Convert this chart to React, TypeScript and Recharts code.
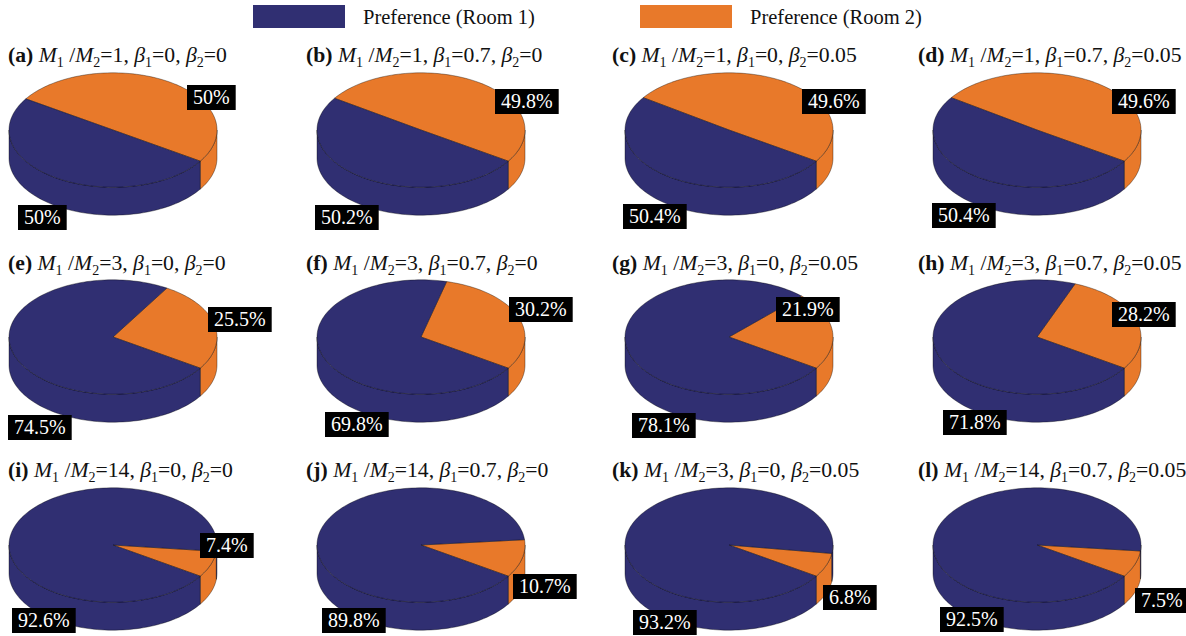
import React from 'react'
import { PieChart, Pie, Cell } from 'recharts'

// panel letters and parameters
const panelIds = ['a', 'b', 'c', 'd', 'e', 'f', 'g', 'h', 'i', 'j', 'k', 'l']
const massRatio = ['1', '1', '1', '1', '3', '3', '3', '3', '14', '14', '3', '14']
const beta1 = ['0', '0.7', '0', '0.7', '0', '0.7', '0', '0.7', '0', '0.7', '0', '0.7']
const beta2 = ['0', '0', '0.05', '0.05', '0', '0', '0.05', '0.05', '0', '0', '0.05', '0.05']

// preference shares (%)
const room1 = [50, 50.2, 50.4, 50.4, 74.5, 69.8, 78.1, 71.8, 92.6, 89.8, 93.2, 92.5]
const room2 = [50, 49.8, 49.6, 49.6, 25.5, 30.2, 21.9, 28.2, 7.4, 10.7, 6.8, 7.5]

const seriesNames = ['Preference (Room 1)', 'Preference (Room 2)']
const COLORS = ['#302f72', '#e8792a']

// label box offsets (top-left, relative to pie centre): [room2, room1]
const labelOffsets: [number, number][][] = [
  [[74, -45], [-95, 75]],
  [[74, -41], [-106, 75]],
  [[73, -41], [-106, 74]],
  [[75, -41], [-105, 73]],
  [[95, -30], [-105, 78]],
  [[88, -40], [-96, 75]],
  [[47, -40], [-97, 76]],
  [[75, -35], [-94, 73]],
  [[87, -12], [-101, 63]],
  [[92, 29], [-99, 63]],
  [[94, 40], [-96, 65]],
  [[98, 43], [-97, 62]],
]

const RAD = Math.PI / 180
const TILT = 0.55
const DEPTH = 28
const START = -33
const FONT = '"Liberation Serif", "Times New Roman", serif'

const Sector3D = (props: any) => {
  const { cx, cy, outerRadius, startAngle, endAngle, fill } = props
  const rx = outerRadius
  const ry = outerRadius * TILT
  const pt = (a: number, dy = 0) => `${cx + rx * Math.cos(a * RAD)},${cy - ry * Math.sin(a * RAD) + dy}`
  const arc = (a0: number, a1: number, dy: number) => {
    const n = Math.max(2, Math.ceil(Math.abs(a1 - a0) / 2))
    const pts: string[] = []
    for (let i = 0; i <= n; i++) pts.push(pt(a0 + ((a1 - a0) * i) / n, dy))
    return pts
  }
  const s = Math.min(startAngle, endAngle)
  const e = Math.max(startAngle, endAngle)

  const sides: string[] = []
  for (const k of [-1, 0, 1]) {
    const lo = Math.max(s, 180 + 360 * k)
    const hi = Math.min(e, 360 + 360 * k)
    if (hi > lo) {
      const pts = [...arc(lo, hi, 0), ...arc(hi, lo, DEPTH)]
      sides.push('M' + pts.join('L') + 'Z')
    }
  }
  const top = `M${cx},${cy}L` + arc(s, e, 0).join('L') + 'Z'

  return (
    <g>
      {sides.map((d, i) => (
        <path key={i} d={d} fill={fill} stroke="rgba(0,0,0,0.45)" strokeWidth={0.8} />
      ))}
      <path d={top} fill={fill} stroke="rgba(0,0,0,0.45)" strokeWidth={0.8} />
    </g>
  )
}

const boxWidth = (t: string) => {
  let w = 0
  for (const ch of t) w += ch === '%' ? 16.7 : ch === '.' ? 5 : 10
  return w + 12
}

const PiePanel = ({ idx }: { idx: number }) => {
  const data = [
    { name: seriesNames[1], value: room2[idx] },
    { name: seriesNames[0], value: room1[idx] },
  ]
  const renderLabel = (p: any) => {
    const [dx, dy] = labelOffsets[idx][p.index]
    const txt = `${data[p.index].value}%`
    const w = boxWidth(txt)
    const x = p.cx + dx
    const y = p.cy + dy
    return (
      <g>
        <rect x={x} y={y} width={w} height={25} fill="#000" />
        <text
          x={x + w / 2}
          y={y + 19}
          textAnchor="middle"
          fill="#fff"
          fontSize={20}
          fontFamily="Liberation Serif"
          style={{ fontFamily: FONT }}
        >
          {txt}
        </text>
      </g>
    )
  }
  return (
    <PieChart width={290} height={190} margin={{ top: 0, right: 0, bottom: 0, left: 0 }}>
      <Pie
        data={data}
        dataKey="value"
        cx={113}
        cy={80}
        outerRadius={104}
        startAngle={START}
        endAngle={START + 360}
        shape={(p: any) => <Sector3D {...p} />}
        label={renderLabel}
        labelLine={false}
        isAnimationActive={false}
      >
        {data.map((_, i) => (
          <Cell key={`cell-${i}`} fill={COLORS[1 - i]} />
        ))}
      </Pie>
    </PieChart>
  )
}

const subStyle = { fontSize: 14 }

const Title = ({ idx }: { idx: number }) => (
  <span>
    <b>({panelIds[idx]})</b> <i>M</i>
    <sub style={subStyle}>1</sub> /<i>M</i>
    <sub style={subStyle}>2</sub>={massRatio[idx]}, <i>β</i>
    <sub style={subStyle}>1</sub>={beta1[idx]}, <i>β</i>
    <sub style={subStyle}>2</sub>={beta2[idx]}
  </span>
)

const colCenters = [113, 421, 729, 1037]
const rowCenters = [130, 337, 545]
const titleLeft = [8, 306, 612, 918]
const titleTop = [43, 251, 458]

export default function App() {
  return (
    <div
      style={{
        position: 'absolute',
        left: 0,
        top: 0,
        width: 1186,
        height: 636,
        background: '#fff',
        overflow: 'hidden',
        fontFamily: FONT,
        color: '#111',
      }}
    >
      {/* legend */}
      {seriesNames.map((name, i) => (
        <div key={name} style={{ position: 'absolute', left: i === 0 ? 253 : 640, top: 5 }}>
          <div style={{ position: 'absolute', left: 0, top: 0, width: 92, height: 23, background: COLORS[i] }} />
          <div style={{ position: 'absolute', left: 110, top: 0, fontSize: 20.5, whiteSpace: 'nowrap', lineHeight: '24px' }}>
            {name}
          </div>
        </div>
      ))}

      {panelIds.map((_, idx) => {
        const col = idx % 4
        const row = Math.floor(idx / 4)
        return (
          <React.Fragment key={idx}>
            <div
              style={{
                position: 'absolute',
                left: titleLeft[col],
                top: titleTop[row],
                fontSize: 21.7,
                whiteSpace: 'nowrap',
                lineHeight: '24px',
              }}
            >
              <Title idx={idx} />
            </div>
            <div style={{ position: 'absolute', left: colCenters[col] - 113, top: rowCenters[row] - 80 }}>
              <PiePanel idx={idx} />
            </div>
          </React.Fragment>
        )
      })}
    </div>
  )
}
